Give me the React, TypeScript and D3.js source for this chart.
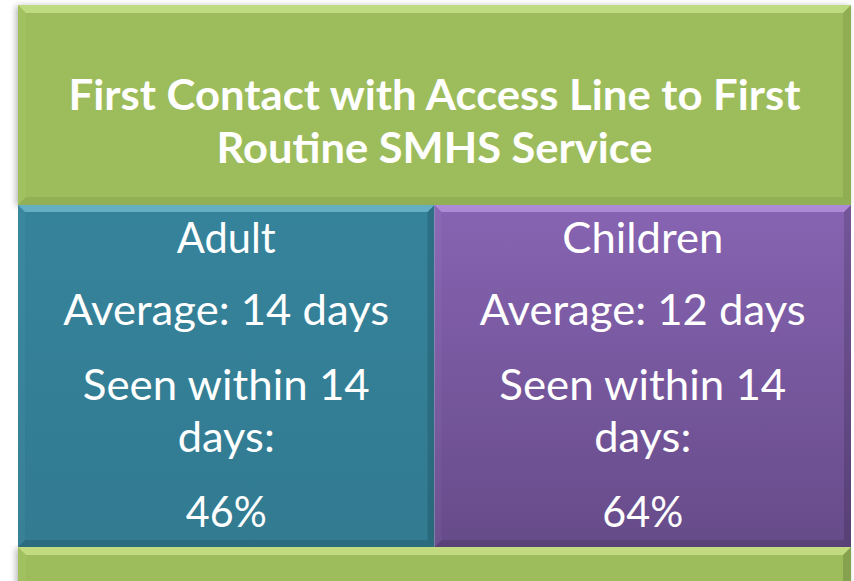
import React from "react";
import * as d3 from "d3";

const TITLE_LINES = ["First Contact with Access Line to First", "Routine SMHS Service"];
const GROUPS = ["Adult", "Children"];
const AVG_DAYS = [14, 12];
const PCT_WITHIN = [46, 64];
const THRESHOLD_DAYS = 14;

const W = 854;
const H = 581;

function Bevel({ x, y, w, h, b, light, dark, k = 1 }: any) {
  const top = `M${x},${y} L${x + w},${y} L${x + w - b},${y + b} L${x + b},${y + b} Z`;
  const bottom = `M${x},${y + h} L${x + w},${y + h} L${x + w - b},${y + h - b} L${x + b},${y + h - b} Z`;
  const left = `M${x},${y} L${x + b},${y + b} L${x + b},${y + h - b} L${x},${y + h} Z`;
  const right = `M${x + w},${y} L${x + w - b},${y + b} L${x + w - b},${y + h - b} L${x + w},${y + h} Z`;
  return (
    <g>
      <path d={top} fill={light} opacity={0.45} />
      <path d={left} fill={light} opacity={0.06} />
      <path d={right} fill={dark} opacity={0.14 * k} />
      <path d={bottom} fill={dark} opacity={0.12 * k} />
    </g>
  );
}

export default function App() {
  const x0 = 18;
  const x1 = 851;
  const xBand = d3.scaleBand<string>().domain(GROUPS).range([x0, x1]).paddingInner(0.0);
  const topY = 5;
  const titleBottom = 205;
  const panelBottom = 547;

  const panelFill = [
    ["#35839b", "#327b91"],
    ["#8764b2", "#664b89"],
  ];
  const panelLight = ["#9fe3f5", "#e0b8ff"];

  const fontBody = "Lato, 'Open Sans', sans-serif";
  const bodyLines = (i: number) => [
    { t: GROUPS[i], y: 253, w: i === 0 ? 99 : 161 },
    { t: `Average: ${AVG_DAYS[i]} days`, y: 325, w: 326 },
    { t: `Seen within ${THRESHOLD_DAYS}`, y: 400, w: 287 },
    { t: "days:", y: 452, w: 97 },
    { t: `${PCT_WITHIN[i]}%`, y: 527, w: 81 },
  ];

  return (
    <svg
      width={W}
      height={H}
      style={{ position: "absolute", left: 0, top: 0, background: "#ffffff" }}
    >
      <defs>
        <filter id="shadow" x="-5%" y="-5%" width="110%" height="110%">
          <feGaussianBlur in="SourceAlpha" stdDeviation="3" />
          <feOffset dx="-2" dy="1" result="b" />
          <feComponentTransfer>
            <feFuncA type="linear" slope="0.3" />
          </feComponentTransfer>
          <feMerge>
            <feMergeNode />
            <feMergeNode in="SourceGraphic" />
          </feMerge>
        </filter>
        {panelFill.map((c, i) => (
          <linearGradient key={i} id={`pg${i}`} x1="0" y1="0" x2="0" y2="1">
            <stop offset="0" stopColor={c[0]} />
            <stop offset="1" stopColor={c[1]} />
          </linearGradient>
        ))}
      </defs>

      {/* bottom green strip */}
      <g filter="url(#shadow)">
        <rect x={x0} y={panelBottom} width={x1 - x0} height={60} fill="#9dbd5b" />
      </g>
      <Bevel x={x0} y={panelBottom} w={x1 - x0} h={60} b={8} light="#f0ffb0" dark="#000" />

      {/* title box */}
      <g filter="url(#shadow)">
        <rect x={x0} y={topY} width={x1 - x0} height={titleBottom - topY} fill="#9dbd5b" />
      </g>
      <Bevel x={x0} y={topY} w={x1 - x0} h={titleBottom - topY} b={8} light="#e8ffb0" dark="#000" k={0.6} />
      {TITLE_LINES.map((t, i) => (
        <text
          key={t}
          x={(x0 + x1) / 2}
          y={110 + i * 53}
          textAnchor="middle"
          fill="#ffffff"
          fontFamily={fontBody}
          fontWeight={700}
          fontSize={42}
          textLength={i === 0 ? 732 : 436}
          lengthAdjust="spacingAndGlyphs"
        >
          {t}
        </text>
      ))}

      {/* panels */}
      {GROUPS.map((g, i) => {
        const px = xBand(g)!;
        const pw = xBand.bandwidth();
        const cx = px + pw / 2;
        return (
          <g key={g}>
            <rect x={px} y={titleBottom} width={pw} height={panelBottom - titleBottom} fill={`url(#pg${i})`} />
            <Bevel x={px} y={titleBottom} w={pw} h={panelBottom - titleBottom} b={7} light={panelLight[i]} dark="#000" />
            {bodyLines(i).map((l) => (
              <text
                key={l.t + l.y}
                x={cx}
                y={l.y}
                textAnchor="middle"
                fill="#ffffff"
                fontFamily={fontBody}
                fontSize={43}
                textLength={l.w}
                lengthAdjust="spacingAndGlyphs"
              >
                {l.t}
              </text>
            ))}
          </g>
        );
      })}
    </svg>
  );
}
